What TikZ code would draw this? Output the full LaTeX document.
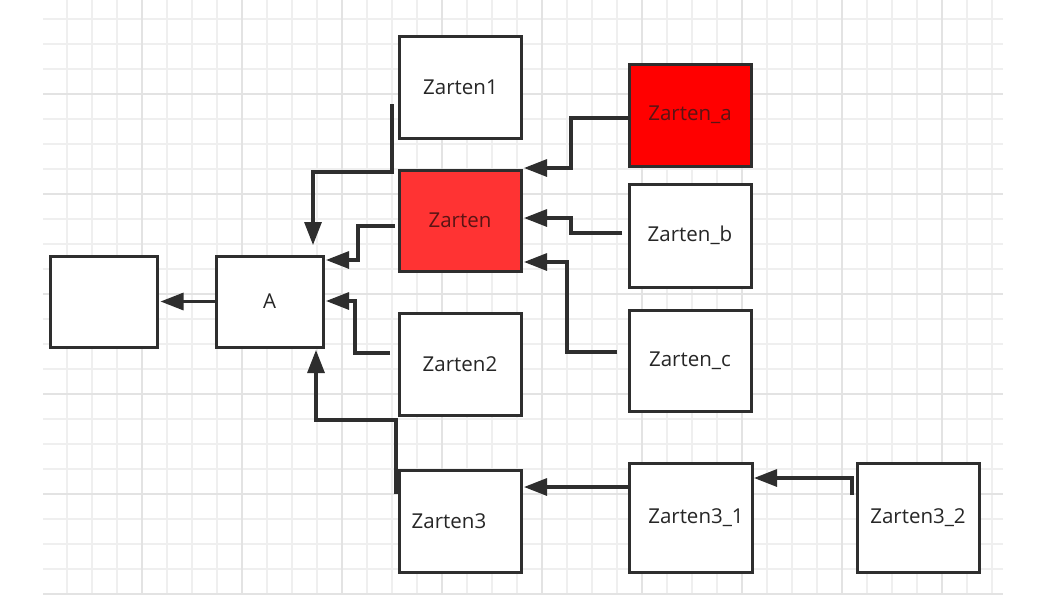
\documentclass[tikz,border=0pt]{standalone}
\usepackage{fontspec}
\setmainfont{Open Sans}
\usetikzlibrary{arrows.meta}
\definecolor{ln}{HTML}{2E2E2E}
\definecolor{txt}{HTML}{262626}
\definecolor{gmin}{HTML}{EFEFEF}
\definecolor{gmaj}{HTML}{E3E3E3}
\definecolor{redA}{HTML}{FF0000}
\definecolor{redB}{HTML}{FF3333}
\definecolor{redtxt}{HTML}{5A1414}
\tikzset{
  box/.style={draw=ln, line width=3pt, fill=white, inner sep=0pt, font=\fontsize{20.5}{22}\selectfont, text=txt},
  lbl/.style={font=\fontsize{20.5}{22}\selectfont, text=txt},
  conn/.style={draw=ln, line width=3.1pt, -{Triangle[length=23pt,width=17pt]}},
}
\begin{document}
\begin{tikzpicture}[x=1pt,y=-1pt]
\useasboundingbox (0,0) rectangle (1047,597);
\fill[white] (0,0) rectangle (1047,597);
% grid
\foreach \i in {67,92,...,1000} {\draw[gmin, line width=1.2pt] (\i,0) -- (\i,595);}
\foreach \j in {19,44,...,595} {\draw[gmin, line width=1.2pt] (43,\j) -- (1003,\j);}
\foreach \i in {142,242,...,1000} {\draw[gmaj, line width=1.6pt] (\i,0) -- (\i,595);}
\foreach \j in {94,194,...,595} {\draw[gmaj, line width=1.6pt] (43,\j) -- (1003,\j);}
% boxes
\node[box, minimum width=107pt, minimum height=91pt] (blank) at (103.5,301.5) {};
\node[box, minimum width=107pt, minimum height=91pt] (A) at (269.5,301.5) {A};
\node[box, minimum width=122pt, minimum height=102pt] (z1) at (460.5,87) {Zarten1};
\node[box, minimum width=122pt, minimum height=101pt, fill=redB, text=redtxt] (z) at (460,220.5) {Zarten};
\node[box, minimum width=122pt, minimum height=102pt] (z2) at (460,364) {Zarten2};
\node[box, minimum width=122pt, minimum height=102pt] (z3) at (460,521) {};
\node[lbl] (z3t) at (449,521) {Zarten3};
\node[box, minimum width=122pt, minimum height=102pt, fill=redA, text=redtxt] (za) at (690,115) {Zarten\_a};
\node[box, minimum width=122pt, minimum height=103pt] (zb) at (690,235.5) {Zarten\_b};
\node[box, minimum width=122pt, minimum height=101pt] (zc) at (690,360.5) {Zarten\_c};
\node[box, minimum width=123pt, minimum height=109pt] (z31) at (690.5,517.5) {};
\node[lbl] (z31t) at (696,518) {Zarten3\_1};
\node[box, minimum width=122pt, minimum height=109pt] (z32) at (918,517.5) {Zarten3\_2};
% connectors
\coordinate (s1) at (392,104);
\coordinate (s2) at (395,226);
\coordinate (s3) at (390,353);
\coordinate (s4) at (396,494);
\coordinate (sa) at (628,118);
\coordinate (sb) at (622,233);
\coordinate (sc) at (617,352);
\coordinate (s32) at (852,495);
\draw[conn] (A.west) -- ([xshift=2pt]blank.east);
\draw[conn] (s1) -- (392,172) -- (313,172) -- (313,245);
\draw[conn] (s2) -- (358,226) -- (358,260) -- (326,260);
\draw[conn] (s3) -- (355,353) -- (355,301) -- (326,301);
\draw[conn] (s4) -- (396,420) -- (316,420) -- (316,350);
\draw[conn] (sa) -- (571,118) -- (571,168) -- (524,168);
\draw[conn] (sb) -- (571,233) -- (571,218) -- (524,218);
\draw[conn] (sc) -- (567,352) -- (567,262) -- (524,262);
\draw[conn] (z31.west |- 0,487) -- (524,487);
\draw[conn] (s32) -- (852,478) -- (754,478);
\end{tikzpicture}
\end{document}
